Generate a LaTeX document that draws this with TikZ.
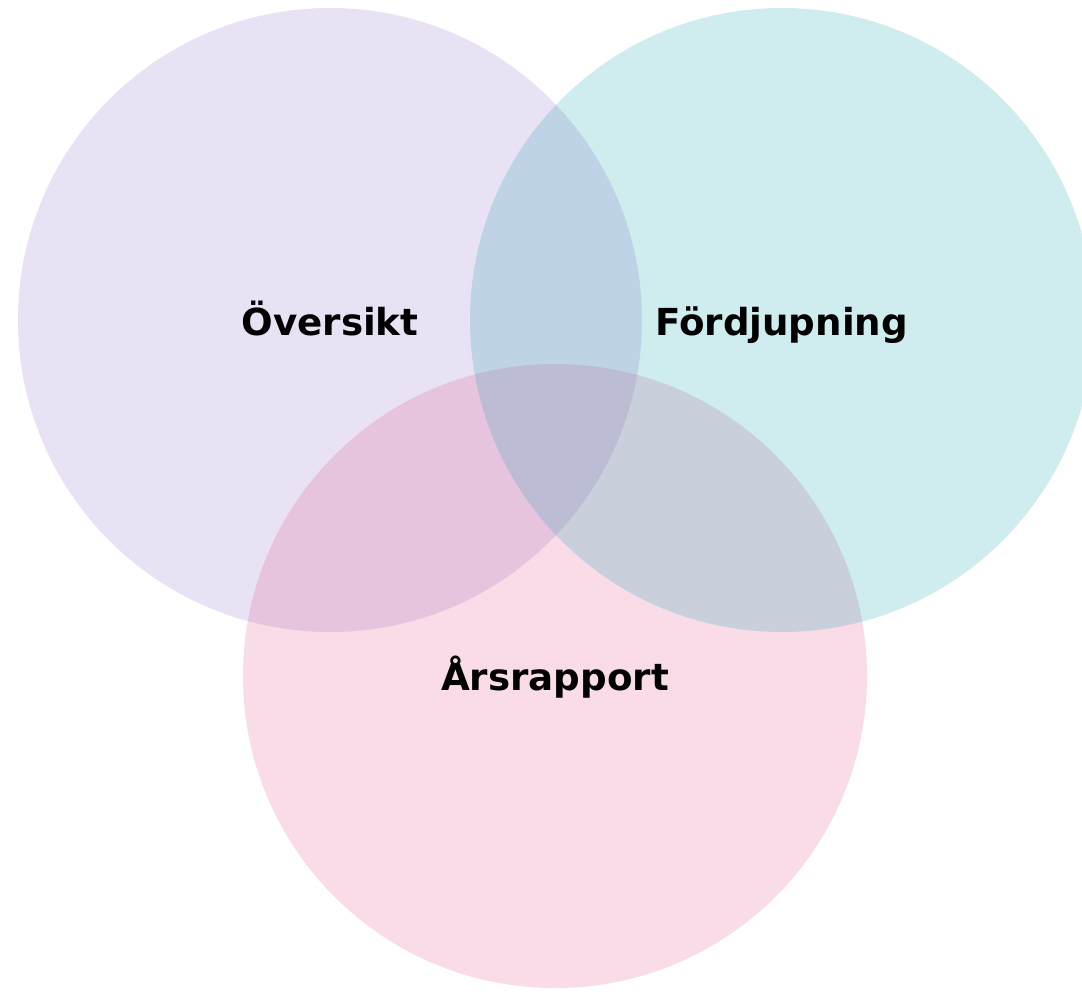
\documentclass[tikz,border=0pt]{standalone}
\usepackage{fontspec}
\setmainfont{DejaVu Sans}
\definecolor{cA}{RGB}{145,105,200}
\definecolor{cB}{RGB}{18,160,174}
\definecolor{cC}{RGB}{225,80,135}
\tikzset{
  venn/.style={fill opacity=0.2, draw=none},
  lbl/.style={font=\fontsize{37.2}{40}\selectfont\bfseries, text=black, inner sep=0pt, anchor=base}
}
\begin{document}
\begin{tikzpicture}[x=1pt,y=-1pt]
\useasboundingbox (0,0) rectangle (1082,991);
\fill[white] (0,0) rectangle (1082,991);
\begin{scope}
\clip (0,0) rectangle (1082,991);
\fill[venn, cA] (330,320) circle[radius=312];
\fill[venn, cC] (555,676) circle[radius=312];
\fill[venn, cB] (782,320) circle[radius=312];
\end{scope}
\node[lbl] (ov) at (330,335) {Översikt};
\node[lbl] (fd) at (781.5,335) {Fördjupning};
\node[lbl] (ar) at (555,690) {Årsrapport};
\end{tikzpicture}
\end{document}
